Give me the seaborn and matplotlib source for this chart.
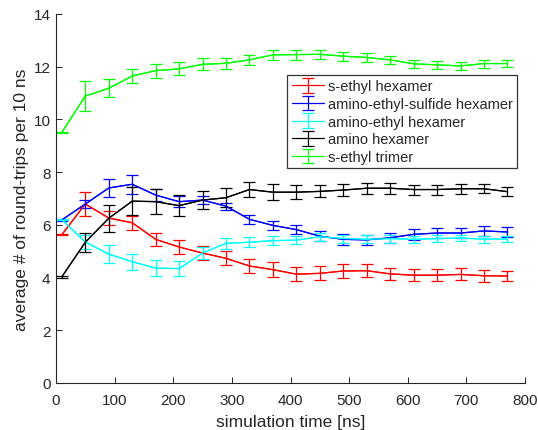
import matplotlib
matplotlib.use("Agg")
import matplotlib.pyplot as plt
import seaborn as sns
import numpy as np
import pandas as pd

# ---- data ----
time_ns = [10, 50, 90, 130, 170, 210, 250, 290, 330, 370,
           410, 450, 490, 530, 570, 610, 650, 690, 730, 770]

s_ethyl_hex = [5.63, 6.79, 6.26, 6.08, 5.45, 5.16, 4.93, 4.73, 4.44, 4.30,
               4.13, 4.16, 4.25, 4.26, 4.14, 4.09, 4.09, 4.12, 4.07, 4.06]
s_ethyl_hex_err = [0.03, 0.47, 0.27, 0.27, 0.24, 0.26, 0.25, 0.27, 0.27, 0.28,
                   0.27, 0.27, 0.26, 0.25, 0.24, 0.23, 0.23, 0.23, 0.22, 0.20]

aes_hex = [6.19, 6.79, 7.40, 7.54, 7.13, 6.88, 6.94, 6.71, 6.21, 5.98,
           5.82, 5.57, 5.45, 5.43, 5.51, 5.64, 5.69, 5.69, 5.77, 5.73]
aes_hex_err = [0.03, 0.16, 0.33, 0.37, 0.24, 0.22, 0.15, 0.13, 0.17, 0.18,
               0.18, 0.18, 0.20, 0.20, 0.20, 0.20, 0.20, 0.18, 0.18, 0.18]

ae_hex = [6.20, 5.35, 4.89, 4.60, 4.36, 4.34, 4.93, 5.30, 5.34, 5.40,
          5.42, 5.55, 5.48, 5.45, 5.48, 5.45, 5.48, 5.50, 5.46, 5.46]
ae_hex_err = [0.03, 0.25, 0.33, 0.30, 0.30, 0.27, 0.22, 0.20, 0.19, 0.16,
              0.16, 0.15, 0.15, 0.15, 0.15, 0.13, 0.13, 0.13, 0.13, 0.12]

amino_hex = [4.03, 5.34, 6.25, 6.90, 6.88, 6.73, 6.94, 7.03, 7.34, 7.24,
             7.24, 7.27, 7.32, 7.39, 7.39, 7.34, 7.34, 7.37, 7.37, 7.26]
amino_hex_err = [0.03, 0.37, 0.52, 0.54, 0.48, 0.39, 0.34, 0.37, 0.28, 0.30,
                 0.27, 0.23, 0.23, 0.21, 0.21, 0.19, 0.19, 0.19, 0.18, 0.18]

s_ethyl_tri = [9.51, 10.89, 11.18, 11.65, 11.85, 11.92, 12.09, 12.13, 12.26, 12.45,
               12.46, 12.47, 12.40, 12.35, 12.26, 12.11, 12.07, 12.03, 12.12, 12.12]
s_ethyl_tri_err = [0.03, 0.58, 0.34, 0.28, 0.27, 0.24, 0.23, 0.21, 0.20, 0.18,
                   0.19, 0.18, 0.17, 0.17, 0.16, 0.15, 0.15, 0.14, 0.15, 0.14]

labels = ["s-ethyl hexamer", "amino-ethyl-sulfide hexamer", "amino-ethyl hexamer",
          "amino hexamer", "s-ethyl trimer"]
colors = ["#FF0000", "#0000FF", "#00FFFF", "#000000", "#00FF00"]
series = [s_ethyl_hex, aes_hex, ae_hex, amino_hex, s_ethyl_tri]
errors = [s_ethyl_hex_err, aes_hex_err, ae_hex_err, amino_hex_err, s_ethyl_tri_err]

x_ticks = [0, 100, 200, 300, 400, 500, 600, 700, 800]
y_ticks = [0, 2, 4, 6, 8, 10, 12, 14]

# ---- style ----
sns.set_style("ticks")
axis_col = "#262626"
plt.rcParams["font.family"] = ["Liberation Sans", "DejaVu Sans"]
plt.rcParams["xtick.direction"] = "in"
plt.rcParams["ytick.direction"] = "in"

fig = plt.figure(figsize=(5.38, 4.31), dpi=100)
ax = fig.add_axes([56 / 538, 1 - 384 / 431, (525 - 56) / 538, (384 - 15) / 431])

rows = []
for lab, vals in zip(labels, series):
    for t, v in zip(time_ns, vals):
        rows.append({"time": t, "value": v, "series": lab})
df = pd.DataFrame(rows)

lw = 0.9
handles = []
for lab, col, vals, err in zip(labels, colors, series, errors):
    sub = df[df["series"] == lab]
    sns.lineplot(data=sub, x="time", y="value", color=col, linewidth=lw,
                 ax=ax, legend=False, zorder=2)
    h = ax.errorbar(time_ns, vals, yerr=err, color=col, ecolor=col, linewidth=lw,
                    elinewidth=lw, capsize=4.5, capthick=lw, label=lab, zorder=2)
    handles.append(h)

ax.set_xlim(0, 800)
ax.set_ylim(0, 14)
ax.set_xticks(x_ticks)
ax.set_yticks(y_ticks)
ax.set_xlabel("simulation time [ns]", fontsize=12.5, color=axis_col, labelpad=5)
ax.set_ylabel("average # of round-trips per 10 ns", fontsize=12.5, color=axis_col, labelpad=3)

for side in ["top", "right"]:
    ax.spines[side].set_visible(False)
for side in ["left", "bottom"]:
    ax.spines[side].set_color(axis_col)
    ax.spines[side].set_linewidth(0.8)
ax.tick_params(axis="both", direction="in", length=4, width=0.7, colors=axis_col,
               labelsize=11, labelcolor=axis_col)
ax.tick_params(axis="x", pad=7.5)
ax.tick_params(axis="y", pad=4)

leg = ax.legend(handles=handles, labels=labels, loc="upper right",
                bbox_to_anchor=((517.3 - 56) / (525 - 56), (384 - 76) / (384 - 15)),
                borderaxespad=0, fontsize=10.5, frameon=True, fancybox=False,
                framealpha=1, edgecolor="#333333", handlelength=2.2,
                handletextpad=0.3, labelspacing=0.25, borderpad=0.3)
leg.get_frame().set_linewidth(0.9)
for t in leg.get_texts():
    t.set_color(axis_col)

fig.savefig("out.png", dpi=100)
